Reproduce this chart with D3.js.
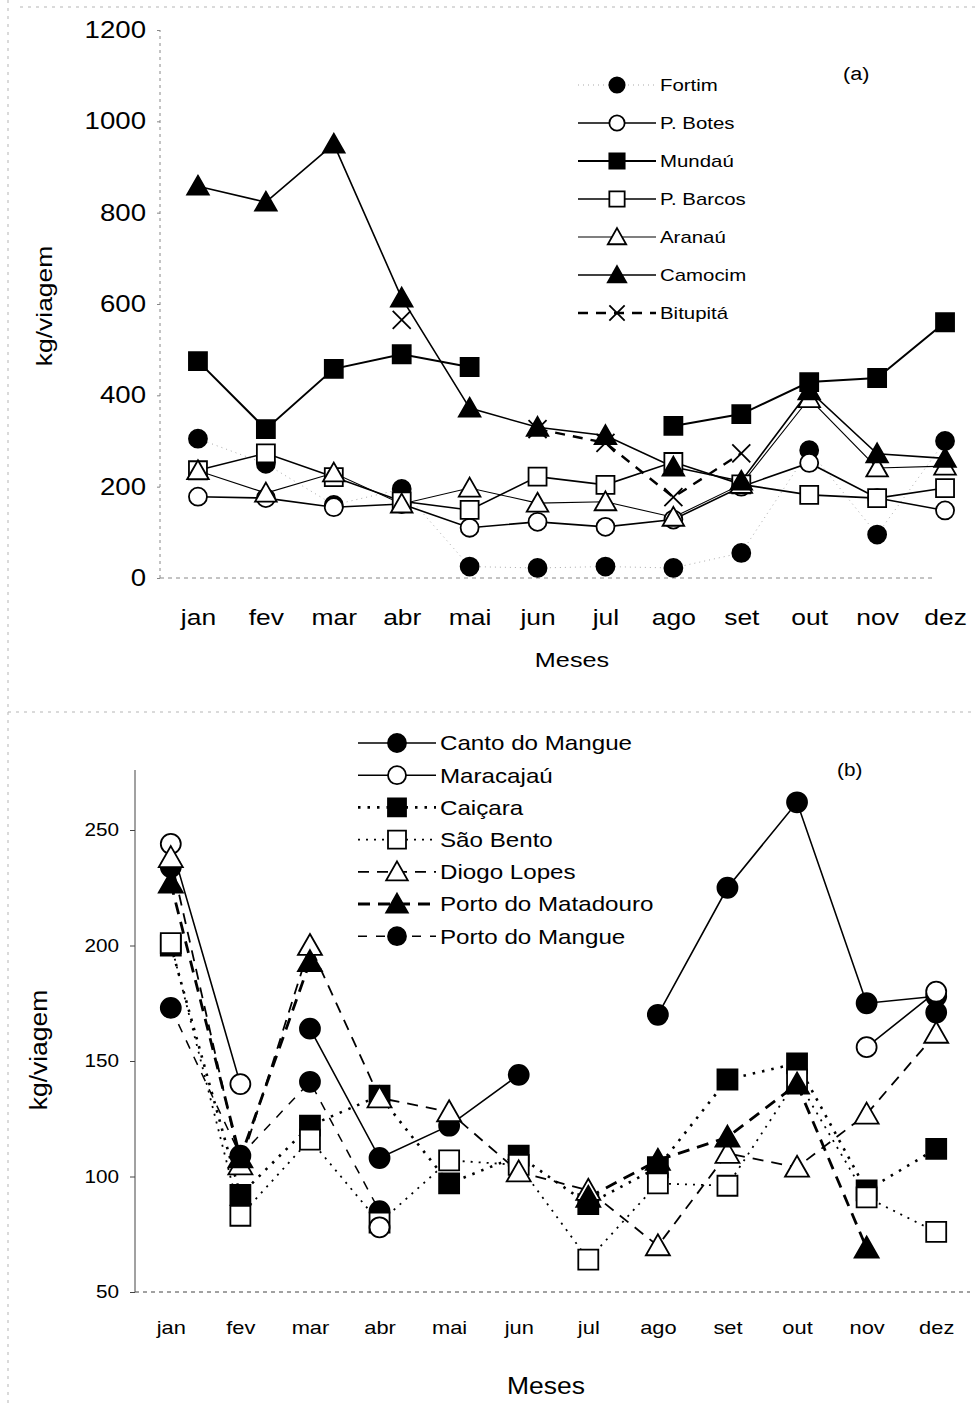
<!DOCTYPE html>
<html>
<head>
<meta charset="utf-8">
<script src="https://cdn.jsdelivr.net/npm/d3@7"></script>
<style>
  html, body { margin: 0; padding: 0; background: #fff; }
  svg { display: block; font-family: "Liberation Sans", Arial, sans-serif; }
</style>
</head>
<body>
<svg id="chart" width="975" height="1407"></svg>
<script>
// Month categories shared by both panels
const months = ["jan","fev","mar","abr","mai","jun","jul","ago","set","out","nov","dez"];

// Panel (a) – kg/viagem per month
const fortim    = [305, 250, 160, 195, 25, 22, 25, 22, 55, 280, 95, 300];
const pBotes    = [178, 175, 155, 162, 110, 123, 112, 128, 200, 252, 175, 148];
const mundau    = [475, 326, 458, 490, 462, null, null, 333, 359, 429, 438, 560];
const pBarcos   = [236, 273, 221, 168, 149, 222, 204, 254, 205, 182, 175, 197];
const aranau    = [235, 186, 230, 162, 197, 164, 167, 133, 205, 393, 241, 245];
const camocim   = [858, 823, 950, 613, 372, 330, 312, 243, 212, 410, 272, 262];
const bitupita  = [null, null, null, 565, null, 326, 296, 177, 273, null, null, null];
const ticksA    = [0, 200, 400, 600, 800, 1000, 1200];

// Panel (b) – kg/viagem per month
const cantoMangue  = [234, null, 164, 108, 122, 144, null, 170, 225, 262, 175, 178];
const maracajau    = [244, 140, null, 78, null, null, null, null, null, null, 156, 180];
const caicara      = [200, 92, 122, 135, 97, 109, 88, 104, 142, 149, 94, 112];
const saoBento     = [201, 83, 116, 80, 107, 105, 64, 97, 96, 142, 91, 76];
const diogoLopes   = [238, 105, 200, 134, 128, 102, 94, 70, 110, 104, 127, 162];
const matadouro    = [227, 108, 193, null, null, null, 91, 107, 117, 140, 69, null];
const portoMangue  = [173, 109, 141, 85, null, null, null, null, null, null, null, 171];
const ticksB       = [50, 100, 150, 200, 250];

const svg = d3.select("#chart");

// Widen text horizontally while keeping glyph height
function stretch(sel, k) {
  sel.each(function () {
    const len = this.getComputedTextLength();
    d3.select(this).attr("textLength", len * k).attr("lengthAdjust", "spacingAndGlyphs");
  });
}

// Faint page frame lines
const frame = svg.append("g").attr("stroke", "#b5b5b5").attr("stroke-width", 1)
  .attr("stroke-dasharray", "3,5").attr("fill", "none");
frame.append("line").attr("x1", 8).attr("x2", 8).attr("y1", 0).attr("y2", 1407);
frame.append("line").attr("x1", 20).attr("x2", 975).attr("y1", 7).attr("y2", 7);
frame.append("line").attr("x1", 8).attr("x2", 975).attr("y1", 712).attr("y2", 712);

// Marker path generator (centered at 0,0)
function markerPath(kind, s) {
  const p = d3.path();
  if (kind === "circle") {
    p.moveTo(s, 0); p.arc(0, 0, s, 0, 2 * Math.PI);
  } else if (kind === "square") {
    p.rect(-s, -s, 2 * s, 2 * s);
  } else if (kind === "triangle") {
    const h = s * 2.1, w = s * 2.4;
    p.moveTo(0, -h * 0.55); p.lineTo(w / 2, h * 0.45); p.lineTo(-w / 2, h * 0.45); p.closePath();
  } else if (kind === "x") {
    p.moveTo(-s, -s); p.lineTo(s, s); p.moveTo(s, -s); p.lineTo(-s, s);
  }
  return p.toString();
}

function drawMarker(g, kind, filled, s, x, y) {
  g.append("path")
    .attr("d", markerPath(kind, s))
    .attr("transform", `translate(${x},${y})`)
    .attr("fill", kind === "x" ? "none" : (filled ? "#000" : "#fff"))
    .attr("stroke", "#000")
    .attr("stroke-width", 1.8);
}

function drawPanel(cfg) {
  const x = d3.scalePoint().domain(months).range(cfg.xRange).padding(0.5);
  const y = d3.scaleLinear().domain(cfg.yDomain).range(cfg.yRange);
  const g = svg.append("g");
  const k = cfg.stretch;

  // axes
  const yAxis = d3.axisLeft(y).tickValues(cfg.ticks).tickSize(cfg.tickSize).tickFormat(d3.format("d"));
  const ya = g.append("g").attr("transform", `translate(${cfg.axisX},0)`).call(yAxis);
  ya.select(".domain").attr("stroke", cfg.axisColor).attr("stroke-dasharray", cfg.yAxisDash)
    .attr("d", `M0,${cfg.yRange[0]}V${cfg.yAxisTop}`);
  ya.selectAll(".tick line").attr("stroke", cfg.axisColor);
  ya.selectAll(".tick text").attr("font-size", cfg.tickFont).attr("fill", "#000")
    .attr("font-family", "Liberation Sans, Arial, sans-serif").attr("dx", cfg.tickDx)
    .call(stretch, k);

  const xAxis = d3.axisBottom(x).tickSize(0).tickPadding(cfg.xPad);
  const xa = g.append("g").attr("transform", `translate(0,${cfg.yRange[0]})`).call(xAxis);
  xa.select(".domain").attr("d", `M${cfg.axisX},0H${cfg.xAxisEnd}`)
    .attr("stroke", cfg.axisColor).attr("stroke-dasharray", "4,4");
  xa.selectAll(".tick text").attr("font-size", cfg.xFont).attr("fill", "#000")
    .attr("font-family", "Liberation Sans, Arial, sans-serif").call(stretch, k);

  // axis titles and panel tag
  g.append("text").attr("x", cfg.xTitle[0]).attr("y", cfg.xTitle[1]).attr("text-anchor", "middle")
    .attr("font-size", cfg.xTitleFont).text("Meses").call(stretch, k);
  g.append("text").attr("transform", `translate(${cfg.yTitle[0]},${cfg.yTitle[1]}) rotate(-90)`)
    .attr("text-anchor", "middle").attr("font-size", cfg.yTitleFont).text("kg/viagem").call(stretch, k);
  g.append("text").attr("x", cfg.tag[0]).attr("y", cfg.tag[1]).attr("font-size", cfg.tagFont)
    .text(cfg.tagText).call(stretch, k);

  // series lines
  const line = d3.line().defined(d => d.v != null).x(d => x(d.m)).y(d => y(d.v));
  cfg.series.forEach(s => {
    const pts = months.map((m, i) => ({ m, v: s.values[i] }));
    g.append("path").datum(pts).attr("d", line).attr("fill", "none")
      .attr("stroke", s.color || "#000").attr("stroke-width", s.width)
      .attr("stroke-dasharray", s.dash || null);
  });
  // markers, in drawing order
  cfg.drawOrder.forEach(idx => {
    const s = cfg.series[idx];
    months.forEach((m, i) => {
      const v = s.values[i];
      if (v != null) drawMarker(g, s.marker, s.filled, s.size, x(m), y(v));
    });
  });

  // legend
  const lg = g.append("g");
  cfg.series.forEach((s, i) => {
    const yy = cfg.legend.y0 + i * cfg.legend.dy;
    lg.append("line").attr("x1", cfg.legend.x0).attr("x2", cfg.legend.x1).attr("y1", yy).attr("y2", yy)
      .attr("stroke", s.color || "#000").attr("stroke-width", Math.max(1.2, s.width))
      .attr("stroke-dasharray", s.dash || null);
    drawMarker(lg, s.marker, s.filled, s.size * cfg.legend.scale, (cfg.legend.x0 + cfg.legend.x1) / 2, yy);
    lg.append("text").attr("x", cfg.legend.x1 + 4).attr("y", yy).attr("dy", "0.35em")
      .attr("font-size", cfg.legend.font).text(s.name).call(stretch, k);
  });
}

drawPanel({
  xRange: [164, 979], yDomain: [0, 1200], yRange: [578, 30], yAxisTop: 30,
  axisX: 160, xAxisEnd: 935, ticks: ticksA, tickSize: 3, tickDx: -8, tickFont: 23,
  axisColor: "#888", yAxisDash: "3,4", xPad: 31, xFont: 22, stretch: 1.2,
  xTitle: [572, 667], xTitleFont: 21, yTitle: [52, 306], yTitleFont: 22,
  tag: [843, 80], tagFont: 18, tagText: "(a)",
  legend: { x0: 578, x1: 656, y0: 85, dy: 38, font: 17, scale: 0.85 },
  series: [
    { name: "Fortim",    values: fortim,   marker: "circle",   filled: true,  size: 9,  width: 1,   color: "#aaa", dash: "1,4" },
    { name: "P. Botes",  values: pBotes,   marker: "circle",   filled: false, size: 9,  width: 1.6 },
    { name: "Mundaú",    values: mundau,   marker: "square",   filled: true,  size: 9,  width: 2 },
    { name: "P. Barcos", values: pBarcos,  marker: "square",   filled: false, size: 9,  width: 1.6 },
    { name: "Aranaú",    values: aranau,   marker: "triangle", filled: false, size: 9,  width: 1.1 },
    { name: "Camocim",   values: camocim,  marker: "triangle", filled: true,  size: 9,  width: 1.6 },
    { name: "Bitupitá",  values: bitupita, marker: "x",        filled: false, size: 9,  width: 2.4, dash: "10,8" }
  ],
  drawOrder: [0, 1, 3, 4, 2, 5, 6]
});

drawPanel({
  xRange: [136, 971], yDomain: [50, 250], yRange: [1292, 830], yAxisTop: 770,
  axisX: 135, xAxisEnd: 970, ticks: ticksB, tickSize: 5, tickDx: -8, tickFont: 18,
  axisColor: "#444", yAxisDash: null, xPad: 29, xFont: 19, stretch: 1.15,
  xTitle: [546, 1394], xTitleFont: 23, yTitle: [47, 1050], yTitleFont: 23,
  tag: [837, 776], tagFont: 18, tagText: "(b)",
  legend: { x0: 358, x1: 436, y0: 743, dy: 32.2, font: 21, scale: 0.9 },
  series: [
    { name: "Canto do Mangue",    values: cantoMangue, marker: "circle",   filled: true,  size: 10, width: 1.6 },
    { name: "Maracajaú",          values: maracajau,   marker: "circle",   filled: false, size: 10, width: 1.6 },
    { name: "Caiçara",            values: caicara,     marker: "square",   filled: true,  size: 10, width: 2.6, dash: "2.5,7" },
    { name: "São Bento",          values: saoBento,    marker: "square",   filled: false, size: 10, width: 1.8, dash: "2,6" },
    { name: "Diogo Lopes",        values: diogoLopes,  marker: "triangle", filled: false, size: 10, width: 1.8, dash: "11,8" },
    { name: "Porto do Matadouro", values: matadouro,   marker: "triangle", filled: true,  size: 10, width: 2.8, dash: "12,8" },
    { name: "Porto do Mangue",    values: portoMangue, marker: "circle",   filled: true,  size: 10, width: 1.5, dash: "9,9" }
  ],
  drawOrder: [0, 6, 2, 3, 1, 4, 5]
});
</script>
</body>
</html>
